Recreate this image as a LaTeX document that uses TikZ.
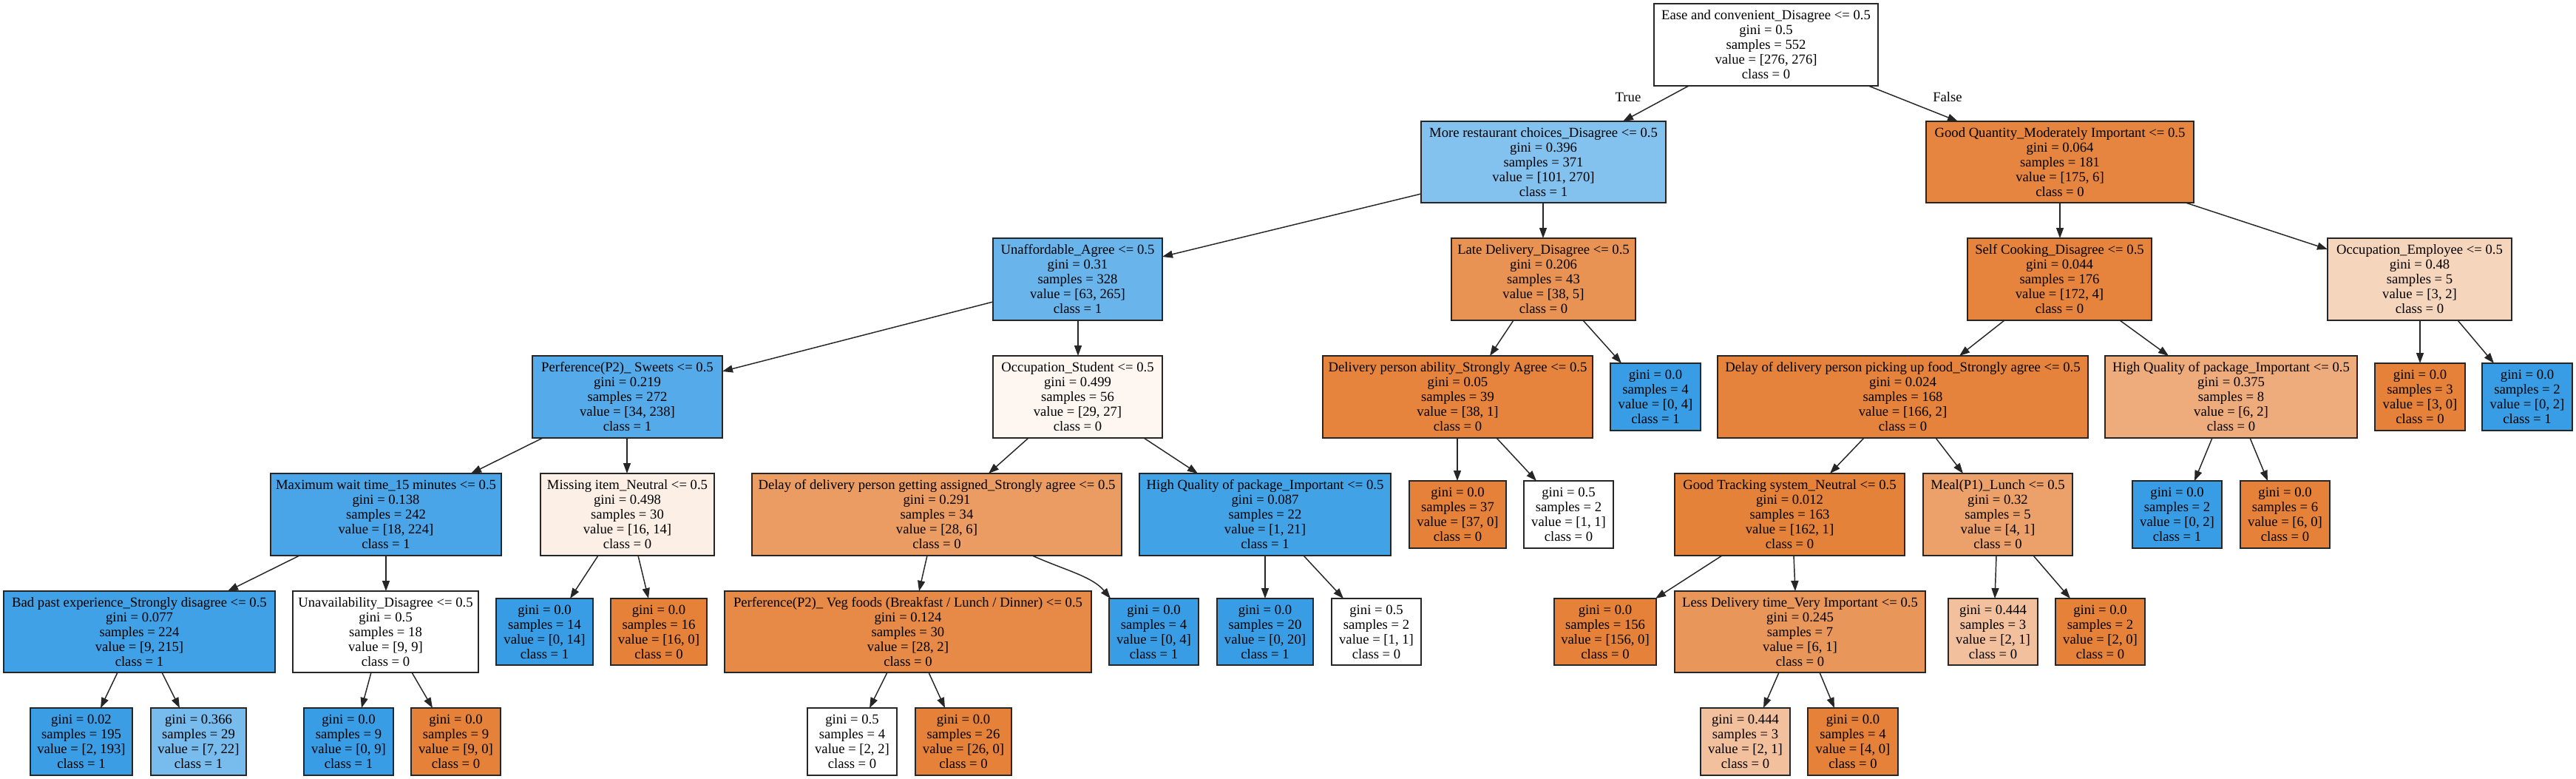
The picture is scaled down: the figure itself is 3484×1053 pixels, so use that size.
\documentclass[tikz,border=0pt]{standalone}
\usepackage{fontspec}
\setmainfont{Liberation Serif}
\usetikzlibrary{arrows.meta,calc}
\definecolor{cor}{HTML}{E58139}
\definecolor{cbl}{HTML}{399DE5}
\definecolor{cA}{HTML}{83C2EF}
\definecolor{cB}{HTML}{E68540}
\definecolor{cC}{HTML}{68B4EB}
\definecolor{cD}{HTML}{E89253}
\definecolor{cE}{HTML}{E6843E}
\definecolor{cF}{HTML}{F6D5BD}
\definecolor{cG}{HTML}{55ABE9}
\definecolor{cH}{HTML}{FDF6F1}
\definecolor{cI}{HTML}{E5823B}
\definecolor{cJ}{HTML}{EEAB7B}
\definecolor{cK}{HTML}{49A5E7}
\definecolor{cL}{HTML}{FCEFE6}
\definecolor{cM}{HTML}{EB9C63}
\definecolor{cN}{HTML}{42A2E6}
\definecolor{cO}{HTML}{E5823A}
\definecolor{cP}{HTML}{ECA06A}
\definecolor{cQ}{HTML}{41A1E6}
\definecolor{cR}{HTML}{E78A47}
\definecolor{cS}{HTML}{E9965A}
\definecolor{cT}{HTML}{F2C09C}
\definecolor{cU}{HTML}{3B9EE5}
\definecolor{cV}{HTML}{78BCED}
\tikzset{
  dtbox/.style={draw=black!85, line width=1.2pt, rectangle, inner sep=0pt, outer sep=0pt,
    align=center, font=\fontsize{14pt}{15pt}\selectfont},
  dtedge/.style={draw=black!85, line width=1.1pt, -{Triangle[length=10.5pt,width=7.5pt]}},
  dtlbl/.style={font=\fontsize{14pt}{15pt}\selectfont, inner sep=0pt}
}
\newcommand\dtn[7]{%
  \node[dtbox, fill=#6, minimum width={(#3-#2)*0.75pt}, minimum height={(#5-#4)*0.75pt}]
    (#1) at ({(#2+#3)/2},{(#4+#5)/2}) {#7};}
\newcommand\dte[4]{%
  \draw[dtedge] ($(#1.south west)+(#2,0)$) -- ($(#3.north west)+(#4,0)$);}
\begin{document}
\begin{tikzpicture}[x=0.75pt,y=-0.75pt]
\fill[white] (0,0) rectangle (3484,1053);
\useasboundingbox (0,0) rectangle (3484,1053);
% level 0
\dtn{n0}{2237}{2540}{5}{116}{white}{Ease and convenient\_Disagree <= 0.5\\gini = 0.5\\samples = 552\\value = [276, 276]\\class = 0}
% level 1
\dtn{n1}{1922}{2253}{164}{274}{cA}{More restaurant choices\_Disagree <= 0.5\\gini = 0.396\\samples = 371\\value = [101, 270]\\class = 1}
\dtn{n2}{2605}{2967}{164}{274}{cB}{Good Quantity\_Moderately Important <= 0.5\\gini = 0.064\\samples = 181\\value = [175, 6]\\class = 0}
% level 2
\dtn{n3}{1343}{1572}{322}{433}{cC}{Unaffordable\_Agree <= 0.5\\gini = 0.31\\samples = 328\\value = [63, 265]\\class = 1}
\dtn{n4}{1963}{2212}{322}{433}{cD}{Late Delivery\_Disagree <= 0.5\\gini = 0.206\\samples = 43\\value = [38, 5]\\class = 0}
\dtn{n5}{2661}{2910}{322}{433}{cE}{Self Cooking\_Disagree <= 0.5\\gini = 0.044\\samples = 176\\value = [172, 4]\\class = 0}
\dtn{n6}{3148}{3397}{322}{433}{cF}{Occupation\_Employee <= 0.5\\gini = 0.48\\samples = 5\\value = [3, 2]\\class = 0}
% level 3
\dtn{n7}{720}{977}{481}{592}{cG}{Perference(P2)\_ Sweets <= 0.5\\gini = 0.219\\samples = 272\\value = [34, 238]\\class = 1}
\dtn{n8}{1343}{1572}{481}{592}{cH}{Occupation\_Student <= 0.5\\gini = 0.499\\samples = 56\\value = [29, 27]\\class = 0}
\dtn{n9}{1789}{2154}{481}{592}{cE}{Delivery person ability\_Strongly Agree <= 0.5\\gini = 0.05\\samples = 39\\value = [38, 1]\\class = 0}
\dtn{n10}{2178}{2300}{491}{582}{cbl}{gini = 0.0\\samples = 4\\value = [0, 4]\\class = 1}
\dtn{n11}{2323}{2824}{481}{592}{cI}{Delay of delivery person picking up food\_Strongly agree <= 0.5\\gini = 0.024\\samples = 168\\value = [166, 2]\\class = 0}
\dtn{n12}{2847}{3188}{481}{592}{cJ}{High Quality of package\_Important <= 0.5\\gini = 0.375\\samples = 8\\value = [6, 2]\\class = 0}
\dtn{n13}{3212}{3334}{491}{582}{cor}{gini = 0.0\\samples = 3\\value = [3, 0]\\class = 0}
\dtn{n14}{3357}{3479}{491}{582}{cbl}{gini = 0.0\\samples = 2\\value = [0, 2]\\class = 1}
% level 4
\dtn{n15}{366}{678}{640}{751}{cK}{Maximum wait time\_15 minutes <= 0.5\\gini = 0.138\\samples = 242\\value = [18, 224]\\class = 1}
\dtn{n16}{731}{966}{640}{751}{cL}{Missing item\_Neutral <= 0.5\\gini = 0.498\\samples = 30\\value = [16, 14]\\class = 0}
\dtn{n17}{1017}{1517}{640}{751}{cM}{Delay of delivery person getting assigned\_Strongly agree <= 0.5\\gini = 0.291\\samples = 34\\value = [28, 6]\\class = 0}
\dtn{n18}{1541}{1881}{640}{751}{cN}{High Quality of package\_Important <= 0.5\\gini = 0.087\\samples = 22\\value = [1, 21]\\class = 1}
\dtn{n19}{1906}{2037}{650}{741}{cor}{gini = 0.0\\samples = 37\\value = [37, 0]\\class = 0}
\dtn{n20}{2061}{2182}{650}{741}{white}{gini = 0.5\\samples = 2\\value = [1, 1]\\class = 0}
\dtn{n21}{2265}{2576}{640}{751}{cO}{Good Tracking system\_Neutral <= 0.5\\gini = 0.012\\samples = 163\\value = [162, 1]\\class = 0}
\dtn{n22}{2601}{2803}{640}{751}{cP}{Meal(P1)\_Lunch <= 0.5\\gini = 0.32\\samples = 5\\value = [4, 1]\\class = 0}
\dtn{n23}{2884}{3005}{650}{741}{cbl}{gini = 0.0\\samples = 2\\value = [0, 2]\\class = 1}
\dtn{n24}{3030}{3151}{650}{741}{cor}{gini = 0.0\\samples = 6\\value = [6, 0]\\class = 0}
% level 5
\dtn{n25}{5}{372}{799}{909}{cQ}{Bad past experience\_Strongly disagree <= 0.5\\gini = 0.077\\samples = 224\\value = [9, 215]\\class = 1}
\dtn{n26}{396}{647}{799}{909}{white}{Unavailability\_Disagree <= 0.5\\gini = 0.5\\samples = 18\\value = [9, 9]\\class = 0}
\dtn{n27}{671}{802}{809}{899}{cbl}{gini = 0.0\\samples = 14\\value = [0, 14]\\class = 1}
\dtn{n28}{826}{956}{809}{899}{cor}{gini = 0.0\\samples = 16\\value = [16, 0]\\class = 0}
\dtn{n29}{980}{1476}{799}{909}{cR}{Perference(P2)\_ Veg foods (Breakfast / Lunch / Dinner) <= 0.5\\gini = 0.124\\samples = 30\\value = [28, 2]\\class = 0}
\dtn{n30}{1500}{1621}{809}{899}{cbl}{gini = 0.0\\samples = 4\\value = [0, 4]\\class = 1}
\dtn{n31}{1646}{1776}{809}{899}{cbl}{gini = 0.0\\samples = 20\\value = [0, 20]\\class = 1}
\dtn{n32}{1801}{1922}{809}{899}{white}{gini = 0.5\\samples = 2\\value = [1, 1]\\class = 0}
\dtn{n33}{2102}{2240}{809}{899}{cor}{gini = 0.0\\samples = 156\\value = [156, 0]\\class = 0}
\dtn{n34}{2265}{2604}{799}{909}{cS}{Less Delivery time\_Very Important <= 0.5\\gini = 0.245\\samples = 7\\value = [6, 1]\\class = 0}
\dtn{n35}{2635}{2756}{809}{899}{cT}{gini = 0.444\\samples = 3\\value = [2, 1]\\class = 0}
\dtn{n36}{2780}{2901}{809}{899}{cor}{gini = 0.0\\samples = 2\\value = [2, 0]\\class = 0}
% level 6
\dtn{n37}{41}{179}{957}{1048}{cU}{gini = 0.02\\samples = 195\\value = [2, 193]\\class = 1}
\dtn{n38}{204}{333}{957}{1048}{cV}{gini = 0.366\\samples = 29\\value = [7, 22]\\class = 1}
\dtn{n39}{411}{532}{957}{1048}{cbl}{gini = 0.0\\samples = 9\\value = [0, 9]\\class = 1}
\dtn{n40}{556}{677}{957}{1048}{cor}{gini = 0.0\\samples = 9\\value = [9, 0]\\class = 0}
\dtn{n41}{1092}{1213}{957}{1048}{white}{gini = 0.5\\samples = 4\\value = [2, 2]\\class = 0}
\dtn{n42}{1238}{1368}{957}{1048}{cor}{gini = 0.0\\samples = 26\\value = [26, 0]\\class = 0}
\dtn{n43}{2300}{2421}{957}{1048}{cT}{gini = 0.444\\samples = 3\\value = [2, 1]\\class = 0}
\dtn{n44}{2445}{2567}{957}{1048}{cor}{gini = 0.0\\samples = 4\\value = [4, 0]\\class = 0}
% edges
\dte{n0}{47}{n1}{273}
\dte{n0}{290}{n2}{43}
\node[dtlbl] (ltrue) at (2202,131) {True};
\node[dtlbl] (lfalse) at (2634,131) {False};
\draw[dtedge] ($(n1.north west)+(0,98)$) -- ($(n3.north east)+(0,25)$);
\dte{n1}{165}{n4}{124}
\dte{n2}{181}{n5}{125}
\draw[dtedge] ($(n2.south west)+(351,0)$) -- ($(n6.north west)+(0,15)$);
\draw[dtedge] ($(n3.north west)+(0,86)$) -- ($(n7.north east)+(0,21)$);
\dte{n3}{115}{n8}{115}
\dte{n4}{84}{n9}{226}
\dte{n4}{178}{n10}{15}
\dte{n5}{50}{n11}{327}
\dte{n5}{206}{n12}{86}
\dte{n6}{125}{n13}{61}
\dte{n6}{176}{n14}{16}
\dte{n7}{14}{n15}{271}
\dte{n7}{128}{n16}{117}
\dte{n8}{48}{n17}{320}
\dte{n8}{204}{n18}{79}
\dte{n9}{182}{n19}{65}
\dte{n9}{235}{n20}{17}
\dte{n11}{198}{n21}{210}
\dte{n11}{295}{n22}{54}
\dte{n12}{145}{n23}{84}
\dte{n12}{196}{n24}{37}
\dte{n15}{39}{n25}{303}
\dte{n15}{156}{n26}{126}
\dte{n16}{78}{n27}{100}
\dte{n16}{132}{n28}{51}
\dte{n17}{237}{n29}{263}
\draw[dtedge] ($(n17.south west)+(379,0)$) .. controls +(45,20) and +(-25,-30) .. ($(n30.north west)+(2,0)$);
\dte{n18}{170}{n31}{65}
\dte{n18}{222}{n32}{16}
\dte{n21}{64}{n33}{137}
\dte{n21}{161}{n34}{163}
\dte{n22}{99}{n35}{63}
\dte{n22}{149}{n36}{20}
\dte{n25}{154}{n37}{95}
\dte{n25}{214}{n38}{39}
\dte{n26}{106}{n39}{78}
\dte{n26}{161}{n40}{29}
\dte{n29}{220}{n41}{84}
\dte{n29}{276}{n42}{40}
\dte{n34}{141}{n43}{85}
\dte{n34}{196}{n44}{36}
\end{tikzpicture}
\end{document}
